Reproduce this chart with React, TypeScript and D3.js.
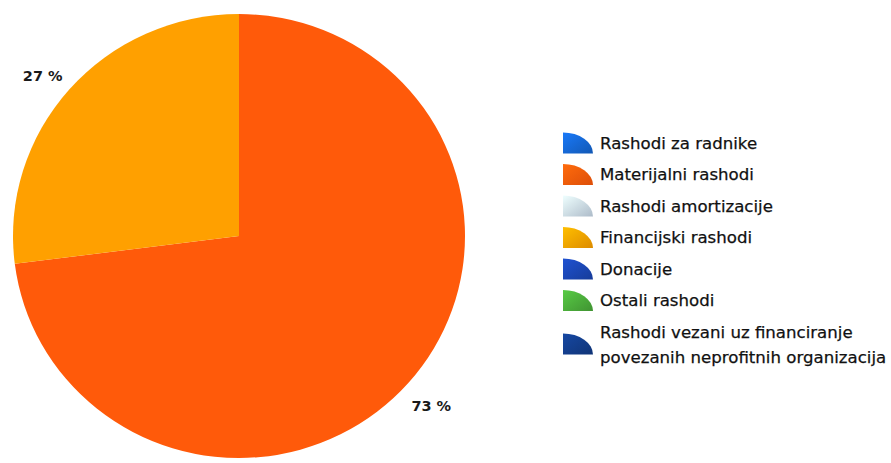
import React from "react";
import * as d3 from "d3";

const sliceNames = ["Materijalni rashodi", "Financijski rashodi"];
const sliceValues = [73, 27];
const sliceLabels = ["73 %", "27 %"];

const legendNames = [
  "Rashodi za radnike",
  "Materijalni rashodi",
  "Rashodi amortizacije",
  "Financijski rashodi",
  "Donacije",
  "Ostali rashodi",
  "Rashodi vezani uz financiranje|povezanih neprofitnih organizacija",
];
const legendColors = ["#1565d0", "#ff5a0a", "#c8d8e8", "#ffa000", "#1a45b0", "#4aaa3a", "#123c88"];
const sliceColors = ["#ff5a0a", "#ffa000"];

export default function App() {
  const W = 891, H = 463;
  const cx = 239, cy = 236, rx = 226, ry = 222;
  const pie = d3.pie<number>().sort(null).value((d) => d);
  const arcs = pie(sliceValues);
  const arcGen = d3.arc<d3.PieArcDatum<number>>().innerRadius(0).outerRadius(rx);
  const labelArc = d3.arc<d3.PieArcDatum<number>>().innerRadius(255).outerRadius(255);
  const labelNudge = [[1, 1], [-5, 9]];

  const legendX = 563;
  const legendY0 = 143;
  const rowH = 31.5;
  const iconW = 30, iconH = 21;
  const iconPath = (x: number, y: number) =>
    `M${x},${y + iconH} L${x},${y} A${iconW},${iconH} 0 0 1 ${x + iconW},${y + iconH} Z`;

  return (
    <svg width={W} height={H} style={{ position: "absolute", left: 0, top: 0, background: "#fff" }}>
      <defs>
        {legendColors.map((c, i) => (
          <linearGradient key={i} id={`lg${i}`} x1="0" y1="0" x2="1" y2="1">
            <stop offset="0%" stopColor={d3.color(c)!.brighter(0.5).formatHex()} />
            <stop offset="100%" stopColor={d3.color(c)!.darker(0.4).formatHex()} />
          </linearGradient>
        ))}
      </defs>
      <g transform={`translate(${cx},${cy}) scale(1,${ry / rx})`}>
        {arcs.map((a, i) => (
          <path key={sliceNames[i]} d={arcGen(a) || ""} fill={sliceColors[i]} />
        ))}
      </g>
      <g transform={`translate(${cx},${cy})`}>
        {arcs.map((a, i) => {
          const [x, y] = labelArc.centroid(a);
          return (
            <text
              key={i}
              x={x + labelNudge[i][0]}
              y={y + labelNudge[i][1]}
              textAnchor="middle"
              dominantBaseline="central"
              fontFamily="'DejaVu Sans', Verdana, sans-serif"
              fontWeight="bold"
              fontSize={14.5}
              fill="#1a1a1a"
            >
              {sliceLabels[i]}
            </text>
          );
        })}
      </g>
      <g fontFamily="'DejaVu Sans', Verdana, sans-serif" fontSize={16.6} fill="#111" stroke="#111" strokeWidth={0.25}>
        {legendNames.map((name, i) => {
          const y = legendY0 + i * rowH;
          const lines = name.split("|");
          return (
            <g key={i}>
              <path
                d={iconPath(legendX, y - iconH / 2 + (lines.length > 1 ? 12 : 0))}
                fill={`url(#lg${i})`}
                stroke="none"
              />
              {lines.map((ln, j) => (
                <text key={j} x={600} y={y + j * 25} dominantBaseline="central">
                  {ln}
                </text>
              ))}
            </g>
          );
        })}
      </g>
    </svg>
  );
}
